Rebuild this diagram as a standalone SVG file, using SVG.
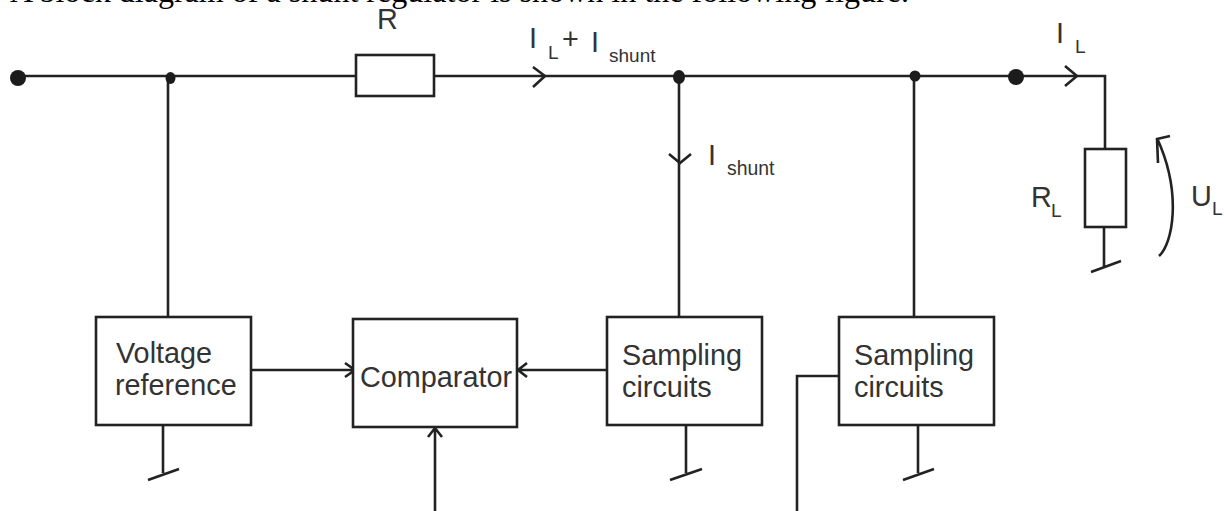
<svg xmlns="http://www.w3.org/2000/svg" width="1224" height="511" viewBox="0 0 1224 511">
<style>
.w{fill:none;stroke:#222;stroke-width:2.6}
.b{fill:#fff;stroke:#222;stroke-width:2.6}
.d{fill:#1c1c1c}
.t{font-family:"Liberation Sans",Arial,sans-serif;font-size:28.800px;fill:#333}
.s{font-family:"Liberation Sans",Arial,sans-serif;font-size:19px;fill:#333}
.h{font-family:"Liberation Serif","Times New Roman",serif;font-size:32.100px;fill:#000}
</style>
<rect width="1224" height="511" fill="#fff"/>
<text class="h" x="10" y="1.500">A block diagram of a shunt regulator is shown in the following figure.</text>
<g id="connectors">
<path class="w" d="M18 76H1105V149M168 78V317M679 77V317M914 76V317"/>
<path class="w" d="M533 67L545 76L533 87M669 154L680 163L691 154M1065 66L1077 76L1065 86"/>
<path class="w" d="M1104 227V267M1091 272L1121 261"/>
<path class="w" d="M1159 256C1172 245 1183 195 1157 138M1170 136L1157 139L1158 163"/>
<path class="w" d="M251 370H355M345 363L355 370L345 377"/>
<path class="w" d="M607 370H518M527 363L518 370L527 377"/>
<path class="w" d="M435 511V428M428 437L435 428L442 437"/>
<path class="w" d="M163 425V473M148 480L179 469"/>
<path class="w" d="M686 425V473M670 480L702 469"/>
<path class="w" d="M918 425V473M903 480L934 469"/>
<path class="w" d="M839 376H797V511"/>
</g>
<g id="source-terminal"><circle class="d" cx="18" cy="78" r="8"/></g>
<g id="junction-1"><ellipse class="d" cx="170.500" cy="78" rx="5" ry="6"/></g>
<g id="junction-2"><ellipse class="d" cx="679" cy="77" rx="6" ry="7"/></g>
<g id="junction-3"><circle class="d" cx="915" cy="76" r="5.500"/></g>
<g id="output-terminal"><circle class="d" cx="1016" cy="77" r="8"/></g>
<g id="resistor-r"><rect class="b" x="356" y="55" width="78" height="41"/><text class="t" x="377" y="29">R</text></g>
<g id="resistor-rl"><rect class="b" x="1085" y="149" width="41" height="78"/><text class="t" x="1031" y="207">R</text><text class="s" x="1051" y="217">L</text></g>
<g id="label-il-shunt"><text class="t" x="529" y="48">I</text><text class="s" x="548" y="59">L</text><text class="t" x="562" y="49">+</text><text class="t" x="591" y="52">I</text><text class="s" x="609" y="62">shunt</text></g>
<g id="label-shunt"><text class="t" x="708" y="165">I</text><text class="s" x="727" y="175" style="font-size:19.400px">shunt</text></g>
<g id="label-il"><text class="t" x="1056" y="43">I</text><text class="s" x="1075" y="53">L</text></g>
<g id="label-ul"><text class="t" x="1191" y="206">U</text><text class="s" x="1212" y="215">L</text></g>
<g id="voltage-reference"><rect class="b" x="96" y="317" width="155" height="108"/><text class="t" x="116" y="363">Voltage</text><text class="t" x="115" y="395">reference</text></g>
<g id="comparator"><rect class="b" x="353" y="319" width="164" height="108"/><text class="t" x="360" y="387">Comparator</text></g>
<g id="sampling-1"><rect class="b" x="607" y="317" width="155" height="108"/><text class="t" x="622" y="365">Sampling</text><text class="t" x="622" y="397">circuits</text></g>
<g id="sampling-2"><rect class="b" x="839" y="317" width="155" height="108"/><text class="t" x="854" y="365">Sampling</text><text class="t" x="854" y="397">circuits</text></g>
</svg>
